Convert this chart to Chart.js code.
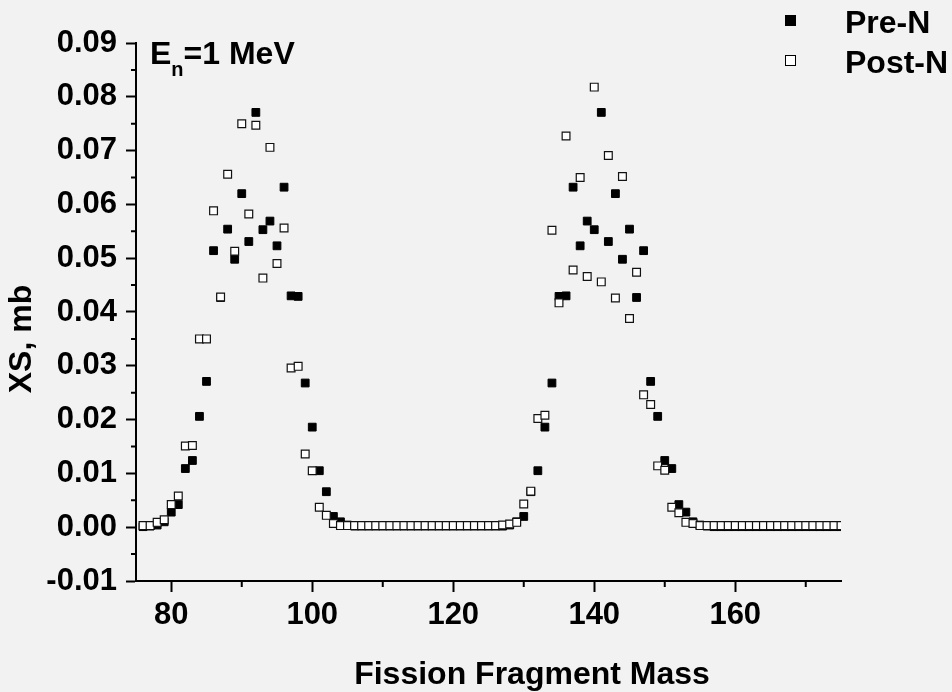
<!DOCTYPE html>
<html>
<head>
<meta charset="utf-8">
<script src="https://cdn.jsdelivr.net/npm/chart.js@4.4.0/dist/chart.umd.min.js"></script>
<style>
html, body { margin: 0; padding: 0; background: #f2f2f2; }
</style>
</head>
<body>
<canvas id="myChart" width="952" height="692"></canvas>
<script>
let masses = [76, 77, 78, 79, 80, 81, 82, 83, 84, 85, 86, 87, 88, 89, 90, 91, 92, 93, 94, 95,
  96, 97, 98, 99, 100, 101, 102, 103, 104, 105, 106, 107, 108, 109, 110, 111, 112, 113, 114, 115,
  116, 117, 118, 119, 120, 121, 122, 123, 124, 125, 126, 127, 128, 129, 130, 131, 132, 133, 134, 135,
  136, 137, 138, 139, 140, 141, 142, 143, 144, 145, 146, 147, 148, 149, 150, 151, 152, 153, 154, 155,
  156, 157, 158, 159, 160, 161, 162, 163, 164, 165, 166, 167, 168, 169, 170, 171, 172, 173, 174, 175];

// pre-neutron emission yields
let preN = [0.0001, 0.0002, 0.0004, 0.0010, 0.0028, 0.0042, 0.0109, 0.0124, 0.0206, 0.0271,
  0.0514, 0.0427, 0.0554, 0.0498, 0.0620, 0.0531, 0.0771, 0.0553, 0.0569, 0.0523,
  0.0632, 0.0430, 0.0429, 0.0268, 0.0186, 0.0105, 0.0066, 0.0020, 0.0010, 0.0004,
  0.0002, 0.0002, 0.0002, 0.0002, 0.0002, 0.0002, 0.0002, 0.0002, 0.0002, 0.0002,
  0.0002, 0.0002, 0.0002, 0.0002, 0.0002, 0.0002, 0.0002, 0.0002, 0.0002, 0.0002,
  0.0002, 0.0002, 0.0004, 0.0010, 0.0020, 0.0066, 0.0105, 0.0186, 0.0268, 0.0429,
  0.0430, 0.0632, 0.0523, 0.0569, 0.0553, 0.0771, 0.0531, 0.0620, 0.0498, 0.0554,
  0.0427, 0.0514, 0.0271, 0.0206, 0.0124, 0.0109, 0.0042, 0.0028, 0.0010, 0.0004,
  0.0002, 0.0001, 0.0001, 0.0001, 0.0001, 0.0001, 0.0001, 0.0001, 0.0001, 0.0001,
  0.0001, 0.0001, 0.0001, 0.0001, 0.0001, 0.0001, 0.0001, 0.0001, 0.0001, 0.0001];

// post-neutron emission yields
let postN = [0.0003, 0.0003, 0.0009, 0.0014, 0.0042, 0.0058, 0.0151, 0.0152, 0.0350, 0.0350,
  0.0588, 0.0428, 0.0656, 0.0513, 0.0750, 0.0582, 0.0747, 0.0463, 0.0706, 0.0490,
  0.0556, 0.0296, 0.0299, 0.0136, 0.0105, 0.0037, 0.0022, 0.0007, 0.0003, 0.0003,
  0.0003, 0.0003, 0.0003, 0.0003, 0.0003, 0.0003, 0.0003, 0.0003, 0.0003, 0.0003,
  0.0003, 0.0003, 0.0003, 0.0003, 0.0003, 0.0003, 0.0003, 0.0003, 0.0003, 0.0003,
  0.0003, 0.0004, 0.0006, 0.0009, 0.0043, 0.0067, 0.0202, 0.0208, 0.0552, 0.0417,
  0.0727, 0.0478, 0.0650, 0.0466, 0.0818, 0.0456, 0.0691, 0.0426, 0.0652, 0.0388,
  0.0474, 0.0246, 0.0228, 0.0114, 0.0106, 0.0037, 0.0027, 0.0009, 0.0007, 0.0003,
  0.0003, 0.0003, 0.0003, 0.0003, 0.0003, 0.0003, 0.0003, 0.0003, 0.0003, 0.0003,
  0.0003, 0.0003, 0.0003, 0.0003, 0.0003, 0.0003, 0.0003, 0.0003, 0.0003, 0.0003];

let xTicks = [80, 100, 120, 140, 160];
let xMinor = [90, 110, 130, 150, 170];
let yTicks = [-0.01, 0, 0.01, 0.02, 0.03, 0.04, 0.05, 0.06, 0.07, 0.08, 0.09];
let yMinor = [-0.005, 0.005, 0.015, 0.025, 0.035, 0.045, 0.055, 0.065, 0.075, 0.085];

let fam = '"Liberation Sans", Arial, sans-serif';

let decor = {
  id: 'decor',
  beforeDraw(chart) {
    let c = chart.ctx;
    c.save();
    c.fillStyle = '#f2f2f2';
    c.fillRect(0, 0, chart.width, chart.height);
    c.restore();
  },
  afterDraw(chart) {
    let c = chart.ctx, xs = chart.scales.x, ys = chart.scales.y, a = chart.chartArea;
    c.save();
    // minor ticks
    c.strokeStyle = '#000';
    c.lineWidth = 2;
    c.beginPath();
    xMinor.forEach(v => {
      let px = xs.getPixelForValue(v);
      c.moveTo(px, a.bottom);
      c.lineTo(px, a.bottom + 6);
    });
    yMinor.forEach(v => {
      let py = ys.getPixelForValue(v);
      c.moveTo(a.left, py);
      c.lineTo(a.left - 5, py);
    });
    c.stroke();

    c.fillStyle = '#000';
    c.textAlign = 'left';
    c.textBaseline = 'alphabetic';

    // E_n = 1 MeV
    c.font = 'bold 32px ' + fam;
    c.fillText('E', 150, 64);
    let wE = c.measureText('E').width;
    c.font = 'bold 20px ' + fam;
    c.fillText('n', 150 + wE, 76);
    let wn = c.measureText('n').width;
    c.font = 'bold 32px ' + fam;
    c.fillText('=1 MeV', 150 + wE + wn, 64);

    // legend
    c.fillRect(785, 15, 11, 11);
    c.fillStyle = '#fff';
    c.fillRect(785, 55, 11, 11);
    c.strokeStyle = '#000';
    c.lineWidth = 1;
    c.strokeRect(785.5, 55.5, 10, 10);
    c.fillStyle = '#000';
    c.fillText('Pre-N', 845, 33);
    c.fillText('Post-N', 845, 73);

    // axis titles
    c.textAlign = 'center';
    c.fillText('Fission Fragment Mass', 532, 684);
    c.translate(31, 339);
    c.rotate(-Math.PI / 2);
    c.fillText('XS, mb', 0, 0);
    c.restore();
  }
};

let myChart = document.getElementById('myChart').getContext('2d');

let chart = new Chart(myChart, {
  type: 'scatter',
  data: {
    datasets: [{
      label: 'Pre-N',
      data: masses.map((m, i) => ({ x: m, y: preN[i] })),
      pointStyle: 'rect',
      pointRadius: 5.5,
      backgroundColor: '#000',
      borderColor: '#000',
      borderWidth: 1,
      clip: 0,
      order: 1
    }, {
      label: 'Post-N',
      data: masses.map((m, i) => ({ x: m, y: postN[i] })),
      pointStyle: 'rect',
      pointRadius: 5.5,
      backgroundColor: '#fff',
      borderColor: '#111',
      borderWidth: 1.2,
      clip: 0,
      order: 0
    }]
  },
  options: {
    responsive: false,
    animation: false,
    layout: { padding: { top: 43, right: 111, left: 0, bottom: 0 } },
    plugins: {
      legend: { display: false },
      tooltip: { enabled: false }
    },
    scales: {
      x: {
        type: 'linear',
        min: 75,
        max: 175,
        afterBuildTicks: s => { s.ticks = xTicks.map(v => ({ value: v })); },
        afterFit: s => { s.height = 111; },
        grid: { drawOnChartArea: false, tickLength: 11, tickWidth: 2, tickColor: '#000' },
        border: { display: true, color: '#000', width: 2 },
        ticks: {
          color: '#000',
          padding: 5,
          maxRotation: 0,
          font: { family: fam, size: 31, weight: 'bold' },
          callback: v => String(v)
        }
      },
      y: {
        type: 'linear',
        min: -0.01,
        max: 0.09,
        afterBuildTicks: s => { s.ticks = yTicks.map(v => ({ value: v })); },
        afterFit: s => { s.width = 136; },
        grid: { drawOnChartArea: false, tickLength: 10, tickWidth: 2, tickColor: '#000' },
        border: { display: true, color: '#000', width: 2 },
        ticks: {
          color: '#000',
          padding: 9,
          font: { family: fam, size: 31, weight: 'bold' },
          callback: v => v.toFixed(2)
        }
      }
    }
  },
  plugins: [decor]
});
</script>
</body>
</html>
